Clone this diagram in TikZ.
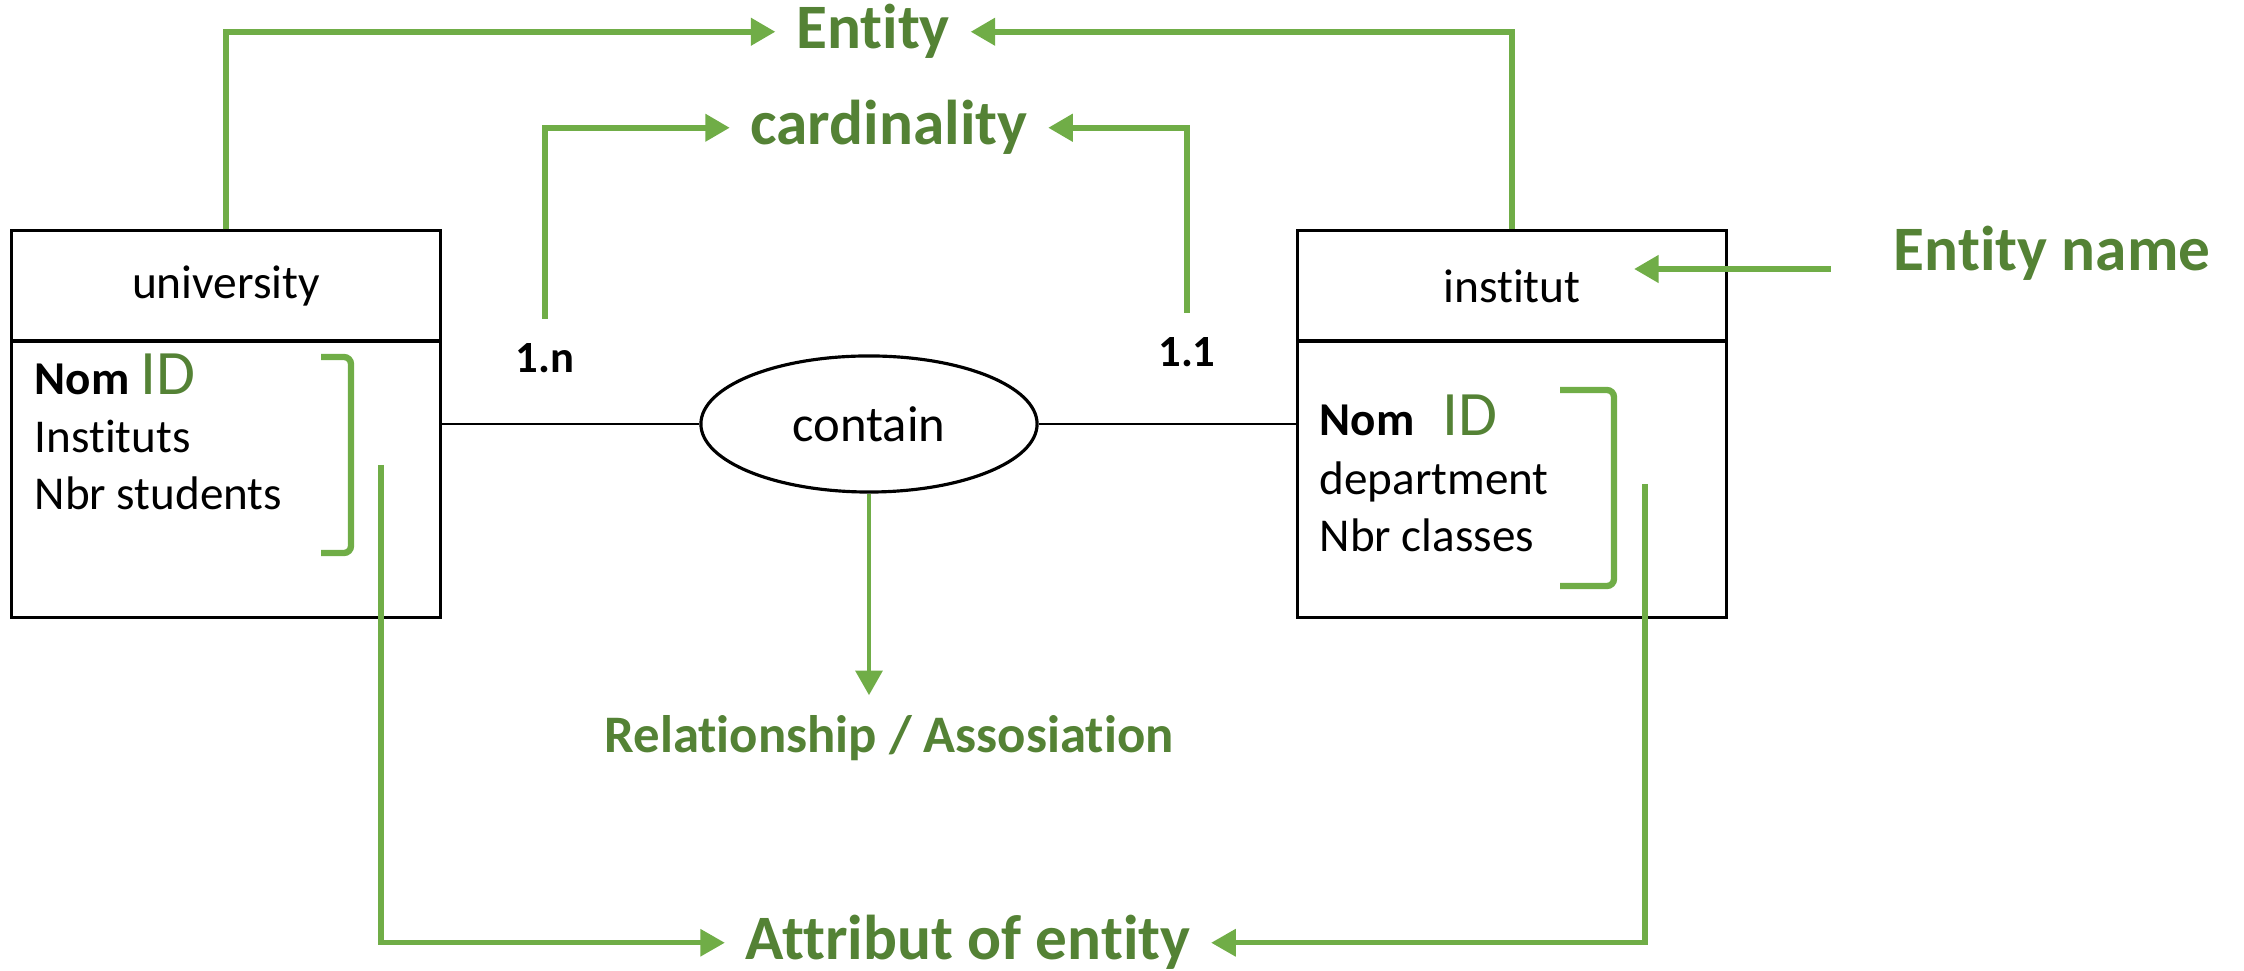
\documentclass[tikz,border=0pt]{standalone}
\usepackage{fontspec}
\setmainfont{Carlito}[Ligatures=NoCommon]
\usetikzlibrary{arrows.meta}
\usetikzlibrary{shapes.geometric}

\definecolor{linegreen}{HTML}{70AD47}
\definecolor{textgreen}{HTML}{548235}

\begin{document}
\begin{tikzpicture}[x=0.01cm, y=-0.01cm,
  entbox/.style={draw, line width=0.9pt, minimum width=4.28cm, minimum height=3.86cm, inner sep=0pt},
  headbox/.style={draw, line width=0.9pt, minimum width=4.28cm, minimum height=1.10cm, inner sep=0pt, font=\fontsize{13.5}{16}\selectfont},
  attr/.style={anchor=base west, inner sep=0pt, font=\fontsize{13.4}{16}\selectfont},
  note/.style={anchor=base, textgreen, font=\fontsize{18}{21}\selectfont\bfseries, inner sep=0.2cm},
  card/.style={anchor=base, inner sep=2pt, font=\fontsize{12.7}{15}\selectfont\bfseries},
  pointer/.style={linegreen, line width=1.8pt, -{Triangle[length=7pt,width=7.5pt]}},
  bracket/.style={linegreen, line width=1.8pt, rounded corners=2pt},
  link/.style={line width=0.5pt}]

\useasboundingbox (0,0) rectangle (2244,971);

% the two entities
\node[entbox] (univ) at (226,424) {};
\node[headbox, anchor=north] (univhead) at (univ.north) {university};
\node[entbox] (inst) at (1512,424) {};
\node[headbox, anchor=north] (insthead) at (inst.north) {institut};

% attributes
\node[attr] (unom) at (34,395) {\textbf{Nom} {\color{textgreen}\fontsize{18}{20}\selectfont ID}};
\node[attr] (uinst) at (34,453) {Instituts};
\node[attr] (unbr) at (34,510) {Nbr students};
\node[attr] (inom) at (1319,436) {\textbf{Nom}\hspace{8pt}{\color{textgreen}\fontsize{18}{20}\selectfont ID}};
\node[attr] (idep) at (1319,495) {department};
\node[attr] (inbr) at (1319,552) {Nbr classes};

\draw[bracket] (321,357) -| (351,553) -- (321,553);
\draw[bracket] (1560,390) -| (1614,586) -- (1560,586);

% association
\node[draw, ellipse, line width=0.9pt, minimum width=3.36cm, minimum height=1.36cm, font=\fontsize{14.4}{17}\selectfont] (rel) at (869,424) {contain};
\draw[link] (univ.east) -- (rel.west);
\draw[link] (rel.east) -- (inst.west);
\node[card] (c1n) at (545,373) {1.n};
\node[card] (c11) at (1187,367) {1.1};

% green notes
\node[note] (entity) at (873,49) {Entity};
\node[note] (cardlbl) at (889,145) {cardinality};
\node[note] (namelbl) at (2052,271) {Entity name};
\node[note, font=\fontsize{15}{18}\selectfont\bfseries] (rellbl) at (889,753) {Relationship / Assosiation};
\node[note] (attrlbl) at (968,960) {Attribut of entity};

\coordinate (namept) at (1634,269);
\coordinate (uattr) at (381,465);
\coordinate (iattr) at (1645,484);

\draw[pointer] (univ.north) |- (entity.west);
\draw[pointer] (inst.north) |- (entity.east);
\draw[pointer, shorten <=5pt] (c1n.north) |- (cardlbl.west);
\draw[pointer, shorten <=5pt] (c11.north) |- (cardlbl.east);
\draw[pointer, shorten <=12pt] (namelbl.west |- namept) -- (namept);
\draw[pointer, line width=1.4pt] (rel.south) -- (rel.south |- rellbl.north);
\draw[pointer, line width=1.5pt] (uattr) |- (attrlbl.west);
\draw[pointer, line width=1.5pt] (iattr) |- (attrlbl.east);

\end{tikzpicture}
\end{document}
